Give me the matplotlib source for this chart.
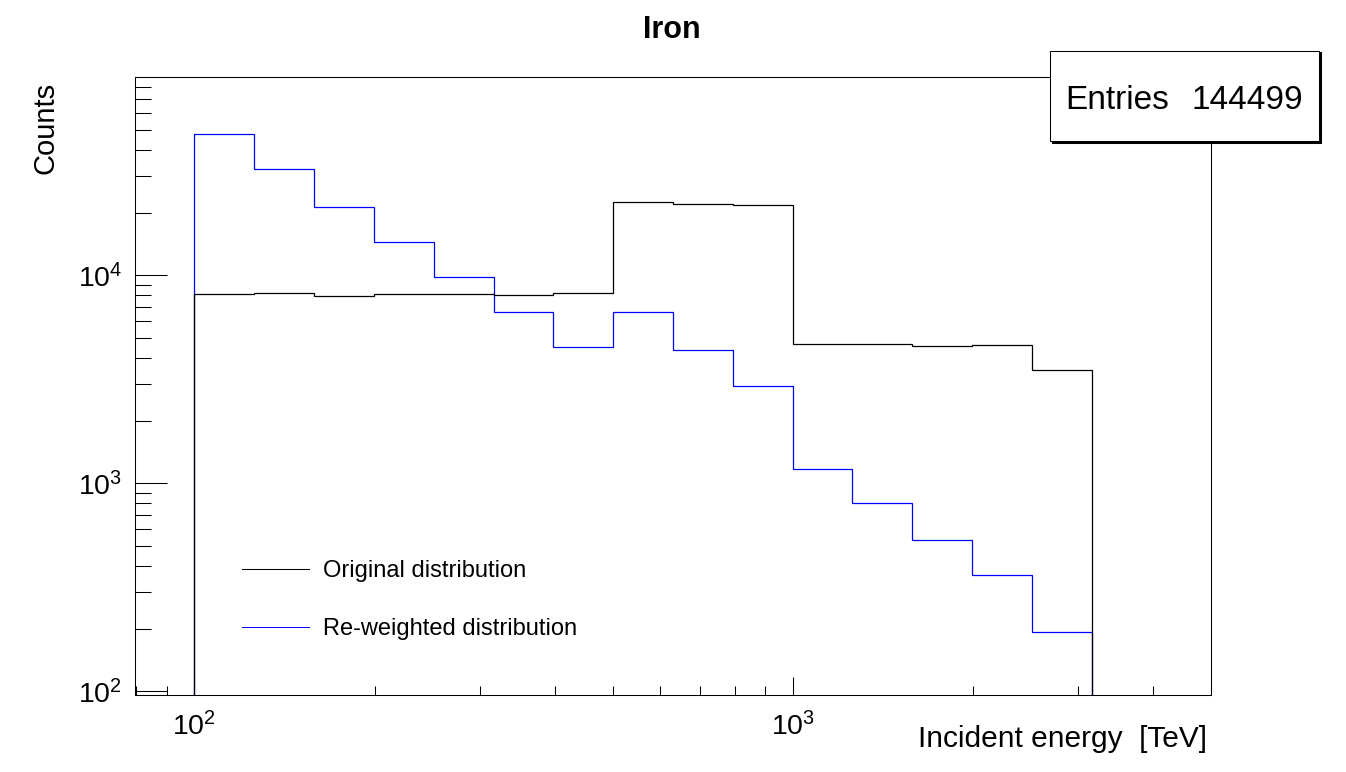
import math
import matplotlib
matplotlib.use("Agg")
import matplotlib.pyplot as plt
from matplotlib.ticker import LogLocator, NullFormatter, FuncFormatter, FixedLocator
from matplotlib.patches import Rectangle
from matplotlib.lines import Line2D

# ---------------- data ----------------
title = "Iron"
x_label = "Incident energy  [TeV]"
y_label = "Counts"
series_labels = ["Original distribution", "Re-weighted distribution"]
series_colors = ["black", "#0000ff"]
bin_edges = [100.0, 125.9, 158.5, 199.5, 251.2, 316.2, 398.1, 501.2, 631.0,
             794.3, 1000.0, 1258.9, 1584.9, 1995.3, 2511.9, 3162.3]
original = [8130, 8220, 7950, 8130, 8100, 8010, 8190, 22440, 21940, 21700,
            4660, 4660, 4570, 4620, 3490]
reweighted = [47640, 32330, 21230, 14410, 9780, 6640, 4510, 6640, 4360, 2925,
              1167, 802, 532, 361, 192]
entries = 144499
x_range = (10 ** 1.9, 10 ** 3.7)
y_range = (10 ** 1.983, 10 ** 4.952)
x_major = [100, 1000]
y_major = [100, 1000, 10000]

# ---------------- style ----------------
plt.rcParams["font.family"] = ["Liberation Sans", "DejaVu Sans"]
plt.rcParams["mathtext.fontset"] = "custom"
plt.rcParams["mathtext.rm"] = "Liberation Sans"
plt.rcParams["mathtext.it"] = "Liberation Sans:italic"
plt.rcParams["mathtext.bf"] = "Liberation Sans:bold"

W, H = 1346, 772
fig = plt.figure(figsize=(W / 100, H / 100), dpi=100)
ax = fig.add_axes([0.1, 0.1, 0.8, 0.8])


def fpx(x, y):
    """figure pixel (from top-left) -> figure fraction"""
    return x / W, 1 - y / H


# histograms (blue underneath, black on top)
ax.stairs(reweighted, bin_edges, baseline=y_range[0], color=series_colors[1],
          lw=0.9, zorder=2)
ax.stairs(original, bin_edges, baseline=y_range[0], color=series_colors[0],
          lw=0.9, zorder=3)

ax.set_xscale("log")
ax.set_yscale("log")
ax.set_xlim(*x_range)
ax.set_ylim(*y_range)

fmt = FuncFormatter(lambda v, p: r"$\mathregular{10^{%d}}$" % round(math.log10(v)))
ax.xaxis.set_major_locator(FixedLocator(x_major))
ax.yaxis.set_major_locator(FixedLocator(y_major))
ax.xaxis.set_major_formatter(fmt)
ax.yaxis.set_major_formatter(fmt)
ax.xaxis.set_minor_locator(LogLocator(base=10, subs=range(2, 10), numticks=20))
ax.yaxis.set_minor_locator(LogLocator(base=10, subs=range(2, 10), numticks=20))
ax.xaxis.set_minor_formatter(NullFormatter())
ax.yaxis.set_minor_formatter(NullFormatter())

ax.tick_params(axis="both", which="both", direction="in", top=False, right=False,
               width=0.75, colors="black", labelsize=20.5)
ax.tick_params(axis="y", which="major", length=23, pad=9)
ax.tick_params(axis="y", which="minor", length=11.5)
ax.tick_params(axis="x", which="major", length=13, pad=12.3)
ax.tick_params(axis="x", which="minor", length=6.5)
for s in ax.spines.values():
    s.set_linewidth(0.75)

# title & axis labels
fig.text(*fpx(672, 38.3), title, ha="center", va="baseline", fontsize=22,
         fontweight="bold")
fig.text(*fpx(1207, 747), x_label, ha="right", va="baseline", fontsize=21.5)
fig.text(*fpx(53.3, 82), y_label, ha="right", va="baseline", fontsize=21,
         rotation=90, rotation_mode="anchor")

# legend (no frame)
leg_rows = [569, 627]
for lab, col, yy in zip(series_labels, series_colors, leg_rows):
    x0, y0 = fpx(242.3, yy)
    x1, _ = fpx(309, yy)
    fig.add_artist(Line2D([x0, x1], [y0, y0], color=col, lw=0.75,
                          transform=fig.transFigure))
    fig.text(*fpx(323.3, yy + 8.5), lab, ha="left", va="baseline", fontsize=17)

# stats box with shadow
bx0, by0, bx1, by1 = 1050, 50.7, 1319, 141
sh = 1.5
fig.add_artist(Rectangle(fpx(bx0 + sh, by1 + sh), (bx1 - bx0) / W, (by1 - by0) / H,
                         transform=fig.transFigure, facecolor="black",
                         edgecolor="black", lw=0.75, zorder=4))
fig.add_artist(Rectangle(fpx(bx0, by1), (bx1 - bx0) / W, (by1 - by0) / H,
                         transform=fig.transFigure, facecolor="white",
                         edgecolor="black", lw=0.75, zorder=5))
fig.text(*fpx(1065, 109), "Entries", ha="left", va="baseline", fontsize=24,
         zorder=6)
fig.text(*fpx(1303, 109), f"{entries}", ha="right", va="baseline", fontsize=24,
         zorder=6)

fig.savefig("out.png", dpi=100)
